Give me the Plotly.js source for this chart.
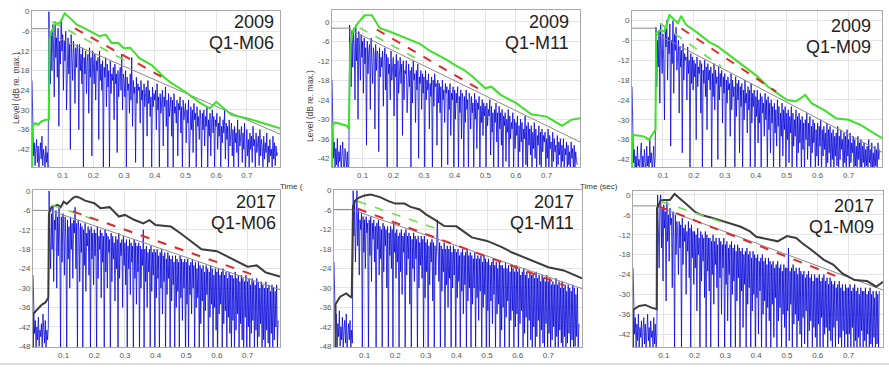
<!DOCTYPE html>
<html><head><meta charset="utf-8">
<script src="https://cdn.plot.ly/plotly-3.0.1.min.js"></script>
<style>html,body{margin:0;padding:0;background:#fff}#c{width:889px;height:370px}</style>
</head><body><div id="c"></div><script>
// ---------- data ----------
const yearLabels = ["2009","2009","2009","2017","2017","2017"];
const posLabels = ["Q1-M06","Q1-M11","Q1-M09","Q1-M06","Q1-M11","Q1-M09"];
const xTicks = [0.1,0.2,0.3,0.4,0.5,0.6,0.7];
const yTicks42 = [0,-6,-12,-18,-24,-30,-36,-42];
const yTicks48 = [0,-6,-12,-18,-24,-30,-36,-42,-48];
const sampleStep = 0.0025; // seconds between blue samples

const blue1 = [
 -21,-30,-44,-40,-47,-42,-39,-46,-41,-48,-43,-40,-45,-38,-47,-42,-44,-48,-41,-46,
 -43,-48,0,-12,-22,-6,-18,-4,-10,-26,-3,-14,-8,-20,-5,-35,-9,-16,-3,-12,
 -7,-24,-9,-15,-6,-30,-11,-8,-19,-10,-42,-7,-14,-21,-9,-13,-28,-11,-17,-10,
 -12,-36,-10,-18,-13,-22,-11,-48,-14,-19,-12,-25,-15,-13,-31,-11,-20,-14,-44,-12,
 -16,-22,-13,-27,-15,-18,-14,-39,-12,-21,-16,-24,-15,-48,-17,-20,-14,-29,-16,-23,
 -18,-48,-15,-25,-19,-21,-17,-33,-16,-22,-19,-43,-18,-26,-20,-17,-24,-13,-30,-19,
 -21,-26,-18,-48,-20,-24,-22,-31,-19,-27,-14,-35,-21,-25,-23,-46,-20,-28,-22,-24,
 -23,-34,-21,-27,-24,-48,-22,-29,-25,-23,-38,-21,-28,-24,-32,-26,-48,-23,-29,-25,
 -27,-24,-36,-22,-30,-26,-48,-25,-31,-27,-24,-41,-26,-29,-23,-35,-27,-48,-25,-32,
 -28,-26,-38,-27,-48,-25,-31,-29,-34,-27,-44,-28,-30,-26,-37,-29,-48,-27,-33,-30,
 -28,-40,-30,-34,-27,-48,-31,-29,-36,-30,-43,-28,-33,-31,-48,-29,-35,-32,-39,-30,
 -33,-48,-31,-36,-30,-41,-32,-35,-29,-48,-33,-38,-31,-44,-34,-30,-37,-32,-48,-33,
 -35,-31,-42,-34,-38,-32,-48,-35,-40,-33,-37,-30,-45,-34,-39,-35,-48,-33,-41,-36,
 -34,-44,-36,-48,-35,-40,-37,-43,-33,-48,-36,-41,-38,-35,-46,-37,-42,-34,-48,-38,
 -36,-44,-39,-48,-37,-42,-38,-46,-35,-41,-39,-48,-37,-43,-40,-38,-47,-36,-44,-39,
 -41,-48,-38,-45,-40,-43,-37,-48,-41,-46,-39,-44,-42,-48,-38,-45,-40,-47,-41,-44,
 -43];
const blue2 = [
 -18,-28,-42,-37,-45,-39,-44,-36,-46,-40,-43,-38,-46,-41,-37,-44,-46,-39,-42,-45,
 -40,-46,-44,-1,-10,-20,-3,-14,-2,-8,-24,-1,-12,-5,-30,-3,-9,-18,-4,-11,
 -6,-22,-5,-13,-8,-38,-6,-16,-9,-7,-27,-5,-12,-19,-8,-10,-33,-7,-15,-9,
 -10,-40,-8,-17,-11,-14,-9,-26,-12,-8,-21,-10,-46,-11,-16,-13,-24,-9,-18,-12,
 -11,-29,-13,-17,-10,-46,-12,-22,-14,-11,-19,-13,-35,-12,-24,-15,-16,-12,-28,-14,
 -13,-20,-15,-46,-14,-25,-12,-18,-16,-31,-15,-21,-13,-42,-17,-19,-15,-27,-16,-22,
 -17,-46,-15,-24,-18,-21,-16,-33,-19,-23,-17,-46,-18,-26,-16,-20,-19,-38,-18,-25,
 -19,-28,-20,-46,-18,-24,-21,-31,-19,-22,-20,-44,-21,-27,-19,-35,-22,-24,-20,-46,
 -21,-30,-22,-25,-20,-46,-23,-28,-21,-36,-22,-24,-46,-23,-31,-21,-27,-24,-46,-22,
 -24,-33,-23,-28,-25,-46,-22,-30,-24,-39,-25,-27,-23,-46,-26,-31,-24,-35,-25,-29,
 -26,-46,-25,-32,-27,-29,-24,-41,-26,-34,-28,-46,-27,-31,-25,-37,-28,-46,-26,-33,
 -28,-38,-27,-46,-29,-32,-28,-43,-30,-34,-27,-46,-29,-36,-31,-33,-28,-46,-30,-39,
 -31,-35,-29,-46,-32,-40,-30,-37,-31,-46,-33,-36,-29,-44,-32,-46,-31,-38,-33,-41,
 -32,-46,-34,-39,-31,-42,-33,-46,-35,-38,-32,-44,-34,-46,-33,-40,-35,-37,-34,-46,
 -36,-42,-33,-46,-35,-39,-37,-46,-34,-43,-36,-40,-38,-46,-35,-44,-37,-41,-36,-46,
 -38,-43,-36,-46,-39,-41,-37,-46,-38,-44,-40,-46,-37,-42,-39,-46,-38,-45,-40,-43,
 -44];
const blue3 = [
 -20,-30,-43,-39,-46,-41,-45,-38,-44,-42,-46,-40,-37,-45,-41,-46,-39,-43,-46,-38,
 -44,-41,-46,-36,-43,-40,-46,-42,-38,-45,-41,-2,-20,-6,-14,-3,-25,-1,-9,-16,
 -4,-12,-30,-2,-8,0,-18,-5,-10,-1,-38,-6,-13,0,-22,-4,-9,-2,-15,-7,
 -6,-28,-8,-14,-9,-40,-7,-18,-10,-12,-11,-24,-8,-16,-12,-46,-10,-19,-11,-21,
 -12,-17,-13,-36,-11,-20,-14,-16,-12,-28,-13,-46,-15,-19,-12,-23,-14,-33,-13,-18,
 -15,-21,-14,-46,-16,-23,-13,-27,-15,-19,-17,-42,-14,-24,-16,-20,-15,-31,-17,-22,
 -16,-46,-18,-25,-17,-21,-19,-35,-16,-27,-18,-23,-20,-46,-17,-29,-19,-24,-18,-40,
 -20,-26,-19,-46,-21,-30,-18,-25,-22,-34,-20,-27,-21,-46,-19,-31,-22,-26,-21,-46,
 -23,-29,-21,-37,-24,-31,-22,-46,-23,-28,-25,-35,-22,-30,-24,-46,-23,-33,-25,-40,
 -24,-31,-26,-46,-25,-34,-27,-38,-24,-32,-26,-46,-28,-35,-25,-41,-27,-33,-26,-46,
 -28,-36,-27,-43,-29,-34,-26,-46,-28,-38,-30,-35,-27,-46,-29,-40,-28,-37,-30,-46,
 -29,-39,-31,-46,-30,-36,-28,-42,-31,-38,-29,-46,-32,-40,-30,-37,-31,-46,-33,-41,
 -31,-44,-32,-38,-30,-46,-33,-41,-32,-39,-34,-46,-31,-43,-33,-40,-32,-46,-34,-42,
 -33,-46,-35,-41,-34,-44,-32,-46,-35,-42,-33,-39,-36,-46,-34,-43,-35,-46,-33,-41,
 -36,-46,-34,-43,-37,-40,-35,-46,-36,-44,-38,-46,-35,-42,-37,-45,-36,-46,-38,-43,
 -37,-46,-39,-44,-38,-46,-36,-43,-39,-46,-37,-45,-40,-46,-38,-44,-39,-46,-37,-42,
 -39];
const blue4 = [
 -26,-34,-44,-40,-49,-42,-46,-39,-48,-43,-45,-41,-49,-38,-44,-47,-40,-49,-43,-46,
 -42,0,-14,-24,-7,-18,-5,-28,-9,-12,-6,-30,-8,-20,-5,-16,-49,-8,-22,-7,
 -10,-26,-8,-15,-49,-9,-21,-11,-30,-8,-18,-10,-27,-9,-13,-5,-24,-10,-49,-9,
 -12,-28,-10,-19,-11,-49,-12,-23,-10,-31,-13,-17,-11,-26,-12,-49,-11,-21,-13,-29,
 -12,-20,-13,-49,-11,-27,-14,-18,-12,-33,-13,-22,-14,-49,-12,-25,-13,-30,-14,-19,
 -15,-49,-13,-28,-14,-21,-16,-34,-14,-24,-15,-49,-13,-27,-16,-20,-15,-36,-14,-23,
 -16,-29,-15,-49,-17,-24,-15,-32,-16,-22,-17,-49,-15,-27,-16,-35,-17,-25,-16,-49,
 -17,-30,-18,-23,-12,-49,-18,-28,-17,-36,-19,-25,-18,-49,-17,-31,-19,-26,-18,-49,
 -19,-33,-18,-27,-20,-49,-19,-30,-18,-38,-20,-28,-19,-49,-21,-32,-19,-27,-20,-49,
 -21,-34,-20,-29,-22,-49,-20,-36,-21,-31,-22,-49,-20,-33,-21,-40,-22,-30,-21,-49,
 -22,-35,-21,-49,-23,-32,-22,-38,-21,-30,-23,-49,-22,-36,-24,-33,-22,-49,-23,-41,
 -24,-34,-23,-49,-25,-37,-23,-32,-24,-49,-25,-39,-23,-35,-24,-49,-26,-36,-24,-43,
 -25,-49,-24,-38,-26,-35,-25,-49,-24,-41,-26,-37,-25,-49,-27,-39,-25,-44,-26,-49,
 -26,-40,-27,-49,-25,-43,-27,-38,-26,-49,-28,-41,-26,-46,-27,-49,-28,-39,-26,-49,
 -28,-42,-27,-49,-29,-44,-27,-40,-28,-49,-29,-43,-27,-49,-28,-45,-30,-41,-28,-49,
 -29,-46,-30,-49,-28,-43,-30,-47,-29,-49,-31,-44,-29,-49,-30,-46,-31,-42,-29,-49,
 -40];
const blue5 = [
 -22,-33,-44,-38,-49,-41,-45,-37,-48,-42,-46,-39,-49,-43,-40,-47,-38,-49,-44,-41,
 -46,-40,-49,-43,-47,0,-14,-3,-22,-8,0,-17,-6,-26,-9,-12,-7,-49,-8,-19,
 -9,-24,-8,-13,-10,-49,-9,-20,-8,-28,-10,-15,-9,-22,-11,-49,-10,-18,-9,-26,
 -11,-21,-12,-49,-10,-25,-11,-17,-12,-30,-11,-49,-13,-20,-11,-24,-12,-49,-10,-19,
 -13,-27,-12,-22,-14,-49,-13,-25,-12,-32,-14,-19,-13,-49,-12,-26,-14,-21,-13,-35,
 -14,-49,-15,-24,-13,-28,-14,-21,-15,-49,-14,-30,-16,-23,-14,-27,-15,-49,-14,-33,
 -16,-25,-15,-49,-17,-29,-16,-22,-15,-34,-16,-49,-17,-26,-15,-9,-18,-28,-16,-49,
 -17,-31,-18,-25,-16,-49,-18,-29,-17,-36,-18,-27,-17,-49,-19,-30,-17,-26,-18,-49,
 -19,-33,-18,-28,-20,-49,-19,-31,-18,-38,-20,-29,-19,-49,-18,-34,-20,-30,-19,-49,
 -20,-35,-21,-30,-19,-49,-21,-33,-20,-40,-21,-31,-20,-49,-22,-36,-20,-32,-21,-49,
 -22,-37,-21,-49,-23,-34,-22,-41,-21,-32,-23,-49,-22,-38,-24,-35,-22,-49,-23,-43,
 -23,-36,-24,-49,-22,-39,-24,-34,-23,-49,-25,-40,-23,-37,-24,-49,-25,-42,-23,-38,
 -25,-49,-24,-41,-26,-37,-25,-49,-24,-44,-26,-39,-25,-49,-27,-40,-25,-46,-26,-49,
 -26,-42,-27,-49,-25,-45,-27,-40,-26,-49,-28,-43,-26,-47,-27,-49,-28,-41,-26,-49,
 -28,-44,-27,-49,-29,-46,-28,-42,-29,-49,-27,-45,-29,-49,-28,-43,-30,-47,-28,-49,
 -30,-45,-29,-49,-31,-47,-29,-44,-30,-49,-31,-46,-29,-49,-30,-48,-32,-45,-30,-49,
 -41];
const blue6 = [
 -22,-32,-42,-37,-46,-39,-44,-36,-47,-40,-43,-38,-46,-41,-37,-45,-39,-47,-42,-36,
 -44,-40,-47,-38,-43,-41,-46,-37,-45,-39,-47,-42,0,-12,-22,-2,0,-16,-4,-26,
 -3,-10,-5,-32,-2,-14,-6,-20,-4,-9,-7,-28,-5,-13,-47,-6,-18,-8,-11,-24,
 -8,-16,-9,-47,-7,-21,-10,-14,-9,-30,-11,-17,-8,-25,-10,-47,-9,-19,-11,-27,
 -11,-22,-12,-35,-10,-18,-13,-47,-11,-26,-12,-20,-13,-31,-11,-47,-12,-23,-13,-29,
 -13,-47,-14,-24,-12,-33,-14,-21,-13,-28,-15,-47,-13,-25,-14,-36,-15,-22,-13,-47,
 -15,-27,-14,-38,-16,-24,-15,-47,-14,-30,-16,-26,-15,-47,-17,-32,-15,-25,-16,-47,
 -17,-29,-16,-40,-18,-27,-17,-47,-16,-33,-18,-28,-17,-47,-19,-35,-17,-30,-18,-47,
 -19,-31,-18,-42,-20,-29,-19,-47,-18,-36,-20,-32,-19,-47,-21,-34,-19,-38,-20,-47,
 -21,-33,-20,-43,-22,-31,-21,-47,-20,-38,-22,-34,-21,-47,-23,-36,-21,-40,-22,-47,
 -22,-35,-16,-44,-23,-33,-22,-47,-21,-39,-23,-36,-22,-47,-24,-38,-22,-42,-23,-47,
 -24,-37,-23,-45,-25,-35,-24,-47,-23,-41,-25,-38,-24,-47,-26,-40,-24,-43,-25,-47,
 -25,-39,-24,-46,-26,-37,-25,-47,-24,-42,-26,-40,-25,-47,-27,-41,-25,-44,-26,-47,
 -27,-40,-26,-47,-28,-38,-27,-45,-26,-43,-28,-47,-27,-41,-29,-46,-27,-42,-28,-47,
 -28,-42,-27,-47,-29,-40,-28,-46,-27,-44,-29,-47,-28,-43,-30,-47,-28,-41,-29,-47,
 -29,-44,-28,-47,-30,-42,-29,-46,-28,-45,-30,-47,-29,-43,-31,-47,-29,-45,-30,-47,
 -29];

// envelopes (green for 2009, dark for 2017)
const envX1 = [0,0,0.01,0.02,0.03,0.045,0.055,0.057,0.06,0.075,0.09,0.107,0.13,0.146,0.17,0.2,0.22,0.24,0.26,0.28,0.3,0.32,0.35,0.39,0.43,0.45,0.5,0.55,0.58,0.6,0.62,0.65,0.7,0.75,0.808];
const envY1 = [-48,-35,-34,-34.5,-33.5,-33,-33,-9,-7,-3.5,-3.5,-0.5,-2.5,-4,-5,-6.5,-7.5,-7,-9.6,-9.5,-11.2,-11,-14.2,-16.3,-20,-21.5,-24.5,-28,-29.5,-27.5,-29,-31.5,-32.5,-34,-35.6];
const envX2 = [0,0,0.01,0.03,0.048,0.055,0.058,0.06,0.068,0.08,0.097,0.107,0.13,0.14,0.156,0.19,0.243,0.287,0.32,0.37,0.4,0.43,0.46,0.5,0.52,0.55,0.6,0.65,0.7,0.75,0.78,0.809];
const envY2 = [-45,-32,-31,-31.5,-32,-33,-10,-7,-3,-1,1,2,2,0.5,-2,-3.1,-5,-6.8,-9,-11.5,-13.3,-14.8,-17,-20.5,-20,-22.5,-25,-28.5,-29.2,-32,-30.2,-29.7];
const envX3 = [0,0,0.02,0.04,0.055,0.07,0.076,0.078,0.09,0.105,0.121,0.138,0.148,0.159,0.175,0.213,0.25,0.278,0.321,0.35,0.4,0.44,0.47,0.5,0.53,0.56,0.58,0.62,0.66,0.7,0.74,0.78,0.808];
const envY3 = [-45,-34.6,-34.8,-35.1,-36.1,-34,-33,-3.8,-3,-3.3,1.7,0.2,-0.8,1.4,-1.3,-3.8,-6.5,-7.9,-10.9,-13.2,-16.5,-20,-22,-24,-24.5,-22.5,-25,-27,-29.6,-30,-31.6,-34,-35.6];
const envX4 = [0,0,0.01,0.02,0.03,0.04,0.05,0.052,0.06,0.08,0.09,0.1,0.11,0.13,0.14,0.15,0.17,0.2,0.22,0.25,0.28,0.3,0.33,0.36,0.38,0.4,0.45,0.48,0.5,0.53,0.55,0.6,0.63,0.66,0.7,0.73,0.76,0.806];
const envY4 = [-49,-38,-37,-36,-35,-34.5,-33,-7,-5,-4.3,-5,-3.3,-4,-2.2,-1.7,-2,-3,-3.8,-5.3,-5,-7.9,-7.4,-8.9,-10,-9,-10.5,-11,-13,-14.5,-16.5,-18,-18.6,-20,-21.6,-23.4,-23,-25.2,-26.4];
const envX5 = [0.005,0.005,0.02,0.04,0.05,0.058,0.062,0.07,0.08,0.1,0.12,0.15,0.18,0.2,0.23,0.25,0.28,0.3,0.33,0.36,0.4,0.42,0.45,0.5,0.55,0.58,0.62,0.65,0.7,0.75,0.8,0.81];
const envY5 = [-49,-35,-32.7,-31.7,-32.5,-33,-4.8,-3,-2.2,-1.5,-1.2,-2,-3.3,-4,-4,-5,-5.8,-7.3,-9,-10.9,-11,-12.4,-14.4,-15.5,-17.5,-19,-20.5,-21.6,-23.6,-24.6,-26.6,-27];
const envX6 = [0,0,0.02,0.04,0.06,0.07,0.077,0.078,0.09,0.1,0.12,0.135,0.15,0.17,0.2,0.22,0.25,0.3,0.35,0.38,0.4,0.45,0.47,0.5,0.53,0.55,0.58,0.62,0.65,0.68,0.72,0.76,0.79,0.812];
const envY6 = [-47,-34.7,-33.5,-33.2,-34,-34.2,-34.5,-4,-1.7,-1.5,-1.5,0.3,-1,-2.5,-5,-6,-6.7,-8.1,-9.6,-11,-12.6,-13.6,-14,-12.4,-13,-14.6,-16.6,-19.6,-21,-23.7,-25.7,-26,-27.7,-26.2];

// gray regression lines
const grayX1 = [0,0.057,0.057,0.808], grayY1 = [-5.2,-5.2,-6.8,-37.4];
const grayX2 = [0,0.06,0.06,0.809], grayY2 = [-2,-2,-2.5,-37];
const grayX3 = [0,0.078,0.078,0.808], grayY3 = [-2.3,-2.3,-4,-39.8];
const grayX4 = [0,0.055,0.055,0.806], grayY4 = [-6,-6,-6,-30.5];
const grayX5 = [0,0.062,0.062,0.81], grayY5 = [-5.8,-5.8,-6,-30.2];
const grayX6 = [0,0.078,0.078,0.812], grayY6 = [-3.3,-3.3,-3.5,-28.7];

// red dashed fits
const redX1 = [0.14,0.44], redY1 = [-5.1,-20.8];
const redX2 = [0.146,0.493], redY2 = [-2.4,-21.5];
const redX3 = [0.16,0.466], redY3 = [-2.4,-21.5];
const redX4 = [0.13,0.73], redY4 = [-6.3,-26.3];
const redX5 = [0.078,0.752], redY5 = [-5.6,-29.2];
const redX6 = [0.086,0.665], redY6 = [-3.5,-24.7];

// green dashed fits
const gdX1 = [0.066,0.30], gdY1 = [-3.1,-14.7];
const gdX2 = [0.09,0.298], gdY2 = [-1.9,-12.5];
const gdX3 = [0.09,0.289], gdY3 = [-0.8,-13.9];
const gdX4 = [0.06,0.22], gdY4 = [-4.3,-9.5];
const gdX5 = [0.078,0.34], gdY5 = [-3.3,-11.9];
const gdX6 = [0.091,0.286], gdY6 = [-2,-8.1];

// ---------- layout geometry (pixels) ----------
const W = 889, H = 370;
const boxes = [
  {l:32,r:280,t:11,b:167, xr:[0,0.808], yr:[-47.4,0.2], yt:yTicks42},
  {l:332,r:580,t:10,b:167, xr:[0,0.809], yr:[-44.7,3.6], yt:yTicks42},
  {l:632,r:882,t:11,b:167, xr:[0,0.808], yr:[-44.3,2.9], yt:yTicks42},
  {l:33,r:280,t:190,b:347, xr:[0,0.806], yr:[-48.2,0.3], yt:yTicks48},
  {l:334,r:582,t:190,b:347, xr:[0,0.81], yr:[-48.2,0.2], yt:yTicks48},
  {l:633,r:883,t:191,b:347, xr:[0,0.812], yr:[-45.9,1.2], yt:yTicks42}
];
const blues = [blue1,blue2,blue3,blue4,blue5,blue6];
const bad = blues.map(a=>a.length).filter(n=>n!==321);
if (bad.length) throw new Error('blue lengths: '+blues.map(a=>a.length).join(','));
const envs = [[envX1,envY1],[envX2,envY2],[envX3,envY3],[envX4,envY4],[envX5,envY5],[envX6,envY6]];
const grays = [[grayX1,grayY1],[grayX2,grayY2],[grayX3,grayY3],[grayX4,grayY4],[grayX5,grayY5],[grayX6,grayY6]];
const reds = [[redX1,redY1],[redX2,redY2],[redX3,redY3],[redX4,redY4],[redX5,redY5],[redX6,redY6]];
const gds = [[gdX1,gdY1],[gdX2,gdY2],[gdX3,gdY3],[gdX4,gdY4],[gdX5,gdY5],[gdX6,gdY6]];
const labelPos = [
  {x:276,y1:22,y2:43},{x:571,y1:22,y2:43},{x:873,y1:26,y2:47},
  {x:278,y1:202,y2:223},{x:576,y1:202,y2:223},{x:876,y1:206,y2:227}
];

const traces = [];
const layout = {
  width:W, height:H, margin:{l:0,r:0,t:0,b:0},
  paper_bgcolor:'#fff', plot_bgcolor:'#fff', showlegend:false,
  font:{family:'Liberation Sans, Arial, sans-serif', color:'#444'},
  annotations:[], shapes:[]
};

boxes.forEach((b,k)=>{
  const n = k+1, xa = 'x'+(n>1?n:''), ya = 'y'+(n>1?n:'');
  const bl = blues[k];
  const tx = bl.map((_,i)=>+(i*sampleStep).toFixed(5));
  traces.push({x:tx,y:bl,xaxis:xa,yaxis:ya,type:'scatter',mode:'lines',
    line:{color:'rgba(0,0,215,0.85)',width:0.9},hoverinfo:'skip'});
  traces.push({x:grays[k][0],y:grays[k][1],xaxis:xa,yaxis:ya,type:'scatter',mode:'lines',
    line:{color:'#8a8a8a',width:1}});
  traces.push({x:envs[k][0],y:envs[k][1],xaxis:xa,yaxis:ya,type:'scatter',mode:'lines',
    line:{color:k<3?'#3ee02a':'#3c3c3c',width:2}});
  traces.push({x:gds[k][0],y:gds[k][1],xaxis:xa,yaxis:ya,type:'scatter',mode:'lines',
    line:{color:'#6fdc4a',width:1.6,dash:'dash'}});
  traces.push({x:reds[k][0],y:reds[k][1],xaxis:xa,yaxis:ya,type:'scatter',mode:'lines',
    line:{color:'#e02a2a',width:2,dash:'dash'}});
  const ax = {
    domain:[b.l/W,b.r/W], range:b.xr, tickvals:xTicks, ticktext:xTicks.map(String),
    showgrid:true, gridcolor:'#e4e4e4', gridwidth:1, zeroline:false,
    showline:true, linecolor:'#a8a8a8', linewidth:1, mirror:true, ticks:'',
    tickfont:{size:8,color:'#555'}, anchor:ya
  };
  const ay = {
    domain:[1-b.b/H,1-b.t/H], range:b.yr, tickvals:b.yt, ticktext:b.yt.map(String),
    showgrid:true, gridcolor:'#e4e4e4', gridwidth:1, zeroline:false,
    showline:true, linecolor:'#a8a8a8', linewidth:1, mirror:true, ticks:'',
    tickfont:{size:8,color:'#555'}, anchor:xa
  };
  layout['xaxis'+(n>1?n:'')] = ax;
  layout['yaxis'+(n>1?n:'')] = ay;
  const lp = labelPos[k];
  layout.annotations.push({xref:'paper',yref:'paper',x:lp.x/W,y:1-lp.y1/H,xanchor:'right',yanchor:'middle',
    text:yearLabels[k],showarrow:false,font:{size:18,color:'#222',family:'Liberation Sans, Arial, sans-serif'}});
  layout.annotations.push({xref:'paper',yref:'paper',x:lp.x/W,y:1-lp.y2/H,xanchor:'right',yanchor:'middle',
    text:posLabels[k],showarrow:false,font:{size:18,color:'#222',family:'Liberation Sans, Arial, sans-serif'}});
});

// axis titles (as in the cropped source figure)
layout.annotations.push({xref:'paper',yref:'paper',x:9/W,y:1-50/H,textangle:-90,showarrow:false,
  text:'Level (dB re. max.)',font:{size:8.5,color:'#444'}});
layout.annotations.push({xref:'paper',yref:'paper',x:310/W,y:1-68/H,textangle:-90,showarrow:false,
  text:'Level (dB re. max.)',font:{size:8.5,color:'#444'}});
layout.annotations.push({xref:'paper',yref:'paper',x:278/W,y:1-186/H,xanchor:'left',showarrow:false,
  text:'Time (',font:{size:8,color:'#333'}});
layout.annotations.push({xref:'paper',yref:'paper',x:578/W,y:1-186/H,xanchor:'left',showarrow:false,
  text:'Time (sec)',font:{size:8,color:'#333'}});
// bottom divider
layout.shapes.push({type:'line',xref:'paper',yref:'paper',x0:0,x1:1,y0:1-364/H,y1:1-364/H,
  line:{color:'#dcdcdc',width:2}});

Plotly.newPlot('c',traces,layout,{staticPlot:true,displayModeBar:false});
</script></body></html>
